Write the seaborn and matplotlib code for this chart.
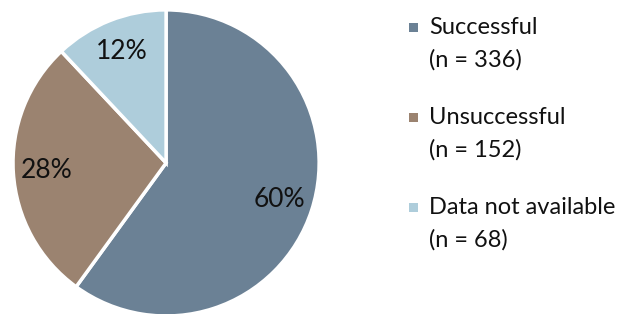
import matplotlib
matplotlib.use("Agg")
import matplotlib.pyplot as plt
from matplotlib.patches import Rectangle
import seaborn as sns

categories = ["Successful", "Unsuccessful", "Data not available"]
counts = [336, 152, 68]
percents = [60, 28, 12]
colors = ["#6b8195", "#9b8370", "#aecddb"]

sns.set_style("white")
plt.rcParams["font.family"] = ["Lato", "DejaVu Sans"]

W, H = 626, 314
fig = plt.figure(figsize=(W / 100, H / 100), dpi=100)
ax = fig.add_axes([0.0208, -0.0064, 0.489, 0.975])

wedges, texts, autotexts = ax.pie(
    percents,
    colors=colors,
    startangle=90,
    counterclock=False,
    autopct=lambda p: f"{p:.0f}%",
    pctdistance=0.78,
    wedgeprops=dict(edgecolor="white", linewidth=2.5),
    textprops=dict(fontsize=19, color="#111111"),
)
for w in wedges:
    w.set_clip_on(False)
ax.set_xlim(-1, 1)
ax.set_ylim(-1, 1)
ax.set_aspect("equal")
ax.axis("off")

# legend: square marker aligned with the first line, count on the second line
for i, (cat, n, col) in enumerate(zip(categories, counts, colors)):
    base = 34 + i * 90  # baseline of first line, px from top
    fig.patches.append(Rectangle(((W - 217) / W, (H - base + 2) / H), 9 / W, 9 / H,
                                 transform=fig.transFigure, facecolor=col,
                                 edgecolor="none"))
    fig.text(429 / W, (H - base) / H, cat, fontsize=17, color="#111111", va="baseline")
    fig.text(429 / W, (H - base - 33) / H, f"(n = {n})", fontsize=17,
             color="#111111", va="baseline")

fig.savefig("out.png", dpi=100)
